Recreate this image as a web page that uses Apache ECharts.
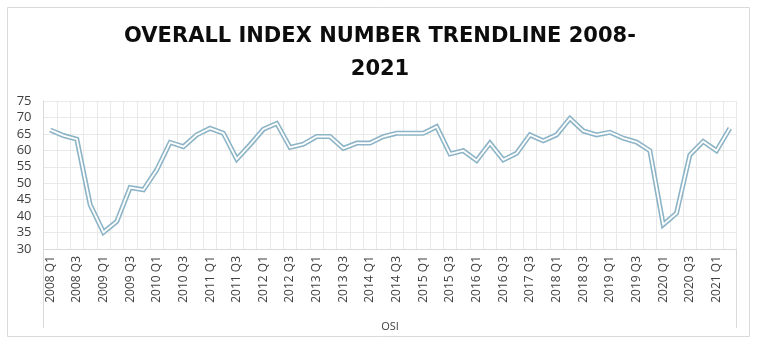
<!DOCTYPE html>
<html>
<head>
<meta charset="utf-8">
<script src="https://cdn.jsdelivr.net/npm/echarts@6/dist/echarts.min.js"></script>
<style>html,body{margin:0;padding:0;background:#fff}#c{width:760px;height:346px}</style>
</head>
<body>
<div id="c"></div>
<script>
var titleText = 'OVERALL INDEX NUMBER TRENDLINE 2008-\n2021';
var axisTitle = 'OSI';
var categories = [
  '2008 Q1','2008 Q2','2008 Q3','2008 Q4',
  '2009 Q1','2009 Q2','2009 Q3','2009 Q4',
  '2010 Q1','2010 Q2','2010 Q3','2010 Q4',
  '2011 Q1','2011 Q2','2011 Q3','2011 Q4',
  '2012 Q1','2012 Q2','2012 Q3','2012 Q4',
  '2013 Q1','2013 Q2','2013 Q3','2013 Q4',
  '2014 Q1','2014 Q2','2014 Q3','2014 Q4',
  '2015 Q1','2015 Q2','2015 Q3','2015 Q4',
  '2016 Q1','2016 Q2','2016 Q3','2016 Q4',
  '2017 Q3','2017 Q4',
  '2018 Q1','2018 Q2','2018 Q3','2018 Q4',
  '2019 Q1','2019 Q2','2019 Q3','2019 Q4',
  '2020 Q1','2020 Q2','2020 Q3','2020 Q4',
  '2021 Q1','2021 Q2'
];
var osiValues = [
  66.2, 64.5, 63.4, 43.5,
  35.1, 38.4, 48.7, 48.0,
  54.1, 62.4, 61.1, 64.7,
  66.7, 65.2, 57.3, 61.7,
  66.4, 68.2, 60.9, 61.9,
  64.2, 64.2, 60.6, 62.2,
  62.2, 64.2, 65.2, 65.2,
  65.2, 67.2, 58.9, 59.9,
  56.9, 62.2, 57.1, 59.1,
  64.7, 62.9,
  64.7, 69.7, 65.9, 64.7,
  65.5, 63.7, 62.5, 59.9,
  37.4, 40.9, 58.6, 62.7,
  59.9, 66.7
];
var yTicks = {min: 30, max: 75, step: 5};

var chart = echarts.init(document.getElementById('c'), null, {renderer: 'canvas'});
chart.setOption({
  animation: false,
  backgroundColor: '#fff',
  title: {
    text: titleText,
    left: 'center',
    top: 15,
    textStyle: {
      fontFamily: 'DejaVu Sans',
      fontWeight: 'bold',
      fontSize: 21,
      color: '#0d0d0d',
      lineHeight: 33
    }
  },
  graphic: [
    {type: 'rect', shape: {x: 7.5, y: 7.5, width: 742, height: 329}, style: {fill: 'none', stroke: '#d9d9d9', lineWidth: 1}, silent: true, z: -1},
    {type: 'line', shape: {x1: 43.5, y1: 249, x2: 43.5, y2: 328}, style: {stroke: '#d9d9d9', lineWidth: 1}, silent: true},
    {type: 'line', shape: {x1: 736.5, y1: 249, x2: 736.5, y2: 328}, style: {stroke: '#d9d9d9', lineWidth: 1}, silent: true}
  ],
  grid: {left: 43.5, right: 23.5, top: 101, bottom: 97, containLabel: false},
  xAxis: {
    type: 'category',
    data: categories,
    boundaryGap: true,
    name: axisTitle,
    nameLocation: 'middle',
    nameGap: 72,
    nameTextStyle: {fontFamily: 'Open Sans', fontSize: 11, color: '#404040'},
    axisLine: {show: true, lineStyle: {color: '#d9d9d9', width: 1}},
    axisTick: {show: false},
    axisLabel: {
      interval: 1,
      rotate: 90,
      margin: 7,
      fontFamily: 'Open Sans',
      fontSize: 12,
      color: '#404040'
    },
    splitLine: {show: true, interval: 0, lineStyle: {color: '#e9e9e9', width: 1}}
  },
  yAxis: {
    type: 'value',
    min: yTicks.min,
    max: yTicks.max,
    interval: yTicks.step,
    axisLine: {show: true, lineStyle: {color: '#d9d9d9', width: 1}},
    axisTick: {show: false},
    axisLabel: {
      margin: 12,
      fontFamily: 'Open Sans',
      fontSize: 13,
      color: '#404040'
    },
    splitLine: {show: true, lineStyle: {color: '#e9e9e9', width: 1}}
  },
  series: [
    {
      name: 'OSI',
      type: 'line',
      data: osiValues,
      symbol: 'none',
      lineStyle: {color: '#8db4c6', width: 5, join: 'miter'},
      z: 2
    },
    {
      name: 'OSI inner',
      type: 'line',
      data: osiValues,
      symbol: 'none',
      lineStyle: {color: '#ffffff', width: 1.8, join: 'miter'},
      z: 3
    }
  ]
});
</script>
</body>
</html>
